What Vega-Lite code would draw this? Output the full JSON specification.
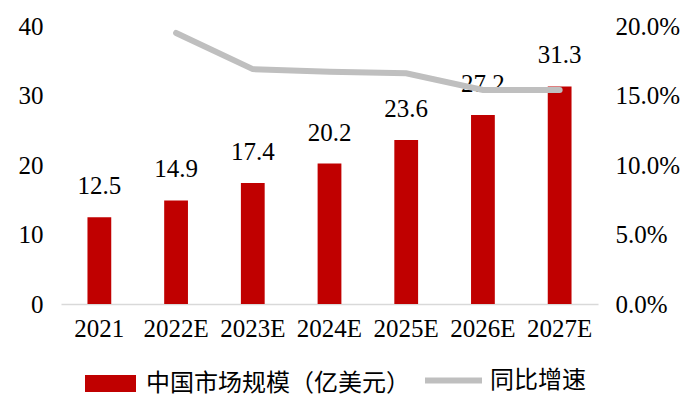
{
  "$schema": "https://vega.github.io/schema/vega-lite/v6.json",
  "width": 537,
  "height": 278,
  "autosize": {"type": "none"},
  "padding": {"left": 61, "top": 26, "right": 102, "bottom": 110},
  "background": "white",
  "config": {"view": {"stroke": null}, "font": "Liberation Serif"},
  "data": {"values": [
    {"year": "2021", "size": 12.5, "growth": null},
    {"year": "2022E", "size": 14.9, "growth": 0.195},
    {"year": "2023E", "size": 17.4, "growth": 0.169},
    {"year": "2024E", "size": 20.2, "growth": 0.167},
    {"year": "2025E", "size": 23.6, "growth": 0.166},
    {"year": "2026E", "size": 27.2, "growth": 0.154},
    {"year": "2027E", "size": 31.3, "growth": 0.154}
  ]},
  "encoding": {
    "x": {"field": "year", "type": "ordinal", "sort": null,
      "scale": {"paddingInner": 0.69, "paddingOuter": 0.345},
      "axis": {"title": null, "labelAngle": 0, "labelFontSize": 25, "labelColor": "#000", "labelFont": "Liberation Serif",
        "domain": true, "domainColor": "#D9D9D9", "domainWidth": 1.5, "ticks": false, "labelPadding": 12}}
  },
  "layer": [
    {
      "mark": {"type": "bar", "color": "#C00000"},
      "encoding": {
        "y": {"field": "size", "type": "quantitative", "scale": {"domain": [0, 40]},
          "axis": {"title": null, "values": [0, 10, 20, 30, 40], "grid": false, "domain": false, "ticks": false,
            "labelFont": "Liberation Serif", "labelFontSize": 25, "labelColor": "#000", "labelPadding": 18}},
        "fill": {"datum": "中国市场规模（亿美元）", "type": "nominal",
          "scale": {"range": ["#C00000"]},
          "legend": {"title": null, "orient": "none", "legendX": 24, "legendY": 332,
            "symbolType": "M-1,-0.33H1V0.33H-1Z", "symbolSize": 2601, "symbolStrokeWidth": 0, "labelLimit": 500,
            "labelFont": "Noto Sans CJK SC", "labelFontSize": 24, "labelColor": "#000", "labelOffset": 10}}
      }
    },
    {
      "mark": {"type": "text", "dy": -23, "baseline": "alphabetic", "fontSize": 25, "font": "Liberation Serif", "color": "#000"},
      "encoding": {
        "y": {"field": "size", "type": "quantitative", "scale": {"domain": [0, 40]}, "axis": null},
        "text": {"field": "size", "type": "quantitative", "format": ".1f"}
      }
    },
    {
      "transform": [{"filter": "datum.growth != null"}],
      "mark": {"type": "line", "strokeWidth": 6, "color": "#BFBFBF", "strokeCap": "round"},
      "encoding": {
        "y": {"field": "growth", "type": "quantitative", "scale": {"domain": [0, 0.2]},
          "axis": {"title": null, "orient": "right", "format": ".1%", "values": [0, 0.05, 0.1, 0.15, 0.2], "grid": false,
            "domain": false, "ticks": false, "labelFont": "Liberation Serif", "labelFontSize": 25, "labelColor": "#000", "labelPadding": 17}},
        "stroke": {"datum": "同比增速", "type": "nominal",
          "scale": {"range": ["#BFBFBF"]},
          "legend": {"title": null, "orient": "none", "legendX": 361, "legendY": 323,
            "symbolType": "stroke", "symbolSize": 3249, "symbolStrokeWidth": 6, "labelLimit": 300,
            "labelFont": "Noto Sans CJK SC", "labelFontSize": 24, "labelColor": "#000", "labelOffset": 5}}
      }
    }
  ],
  "resolve": {"scale": {"y": "independent"}}
}
